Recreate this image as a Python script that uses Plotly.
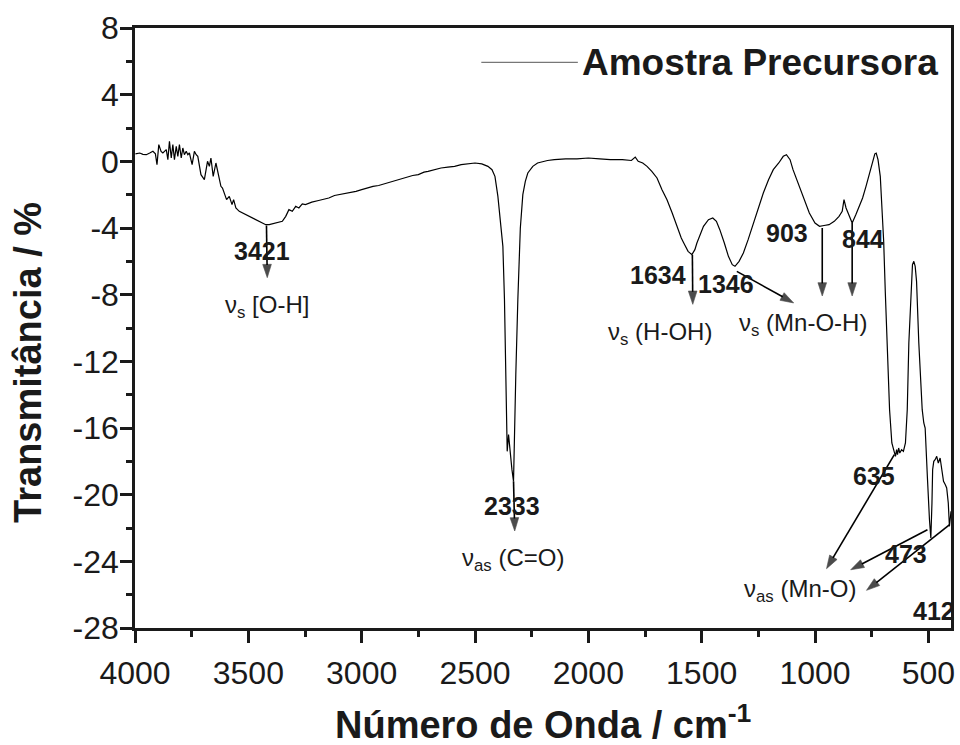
import plotly.graph_objects as go

# ---------------- data ----------------
wavenumber = [
    3998, 3979, 3965, 3950, 3935, 3921, 3910, 3903, 3895, 3885, 3877, 3862, 3855, 3848,
    3840, 3833, 3826, 3818, 3811, 3804, 3796, 3789, 3782, 3774, 3767, 3760, 3748, 3738,
    3730, 3723, 3709, 3694, 3680, 3672, 3665, 3655, 3643, 3628, 3621, 3614, 3606, 3596,
    3584, 3572, 3565, 3555, 3540, 3525, 3511, 3490, 3467, 3445, 3423, 3408, 3394, 3370,
    3350, 3335, 3321, 3306, 3291, 3277, 3262, 3248, 3220, 3190, 3170, 3145, 3120, 3100,
    3075, 3050, 3025, 3000, 2975, 2950, 2925, 2900, 2880, 2852, 2830, 2800, 2775, 2750,
    2725, 2707, 2680, 2650, 2620, 2590, 2561, 2530, 2500, 2470, 2443, 2425, 2412, 2399,
    2385, 2377, 2370, 2365, 2358, 2352, 2345, 2337, 2330, 2326, 2320, 2311, 2300, 2289,
    2278, 2267, 2245, 2224, 2200, 2180, 2150, 2100, 2050, 2000, 1950, 1903, 1850, 1810,
    1793, 1780, 1760, 1741, 1720, 1697, 1675, 1653, 1630, 1609, 1590, 1579, 1560, 1543,
    1530, 1521, 1505, 1492, 1470, 1451, 1435, 1420, 1400, 1382, 1365, 1353, 1335, 1316,
    1295, 1272, 1250, 1228, 1205, 1184, 1160, 1140, 1126, 1110, 1097, 1083, 1069, 1047,
    1025, 1000, 980, 960, 938, 915, 894, 880, 872, 863, 855, 836, 820, 806, 790, 775,
    760, 745, 736, 730, 722, 712, 705, 697, 690, 682, 671, 661, 652, 645, 640, 636,
    631, 626, 618, 610, 601, 593, 586, 576, 570, 564, 558, 552, 542, 527, 520, 514,
    509, 504, 495, 489, 484, 481, 476, 470, 463, 456, 448, 440, 433, 425, 419, 412,
    407, 403, 400,
]
transmittance = [
    0.45, 0.50, 0.42, 0.40, 0.50, 0.60, 0.45, -0.20, 1.00, 0.60, 0.50, 0.70, 0.10, 1.20,
    0.20, 1.00, 0.10, 0.90, 0.30, 1.00, 0.20, 0.80, 0.40, 0.60, 0.40, 0.50, -0.20, 0.60,
    0.40, 0.30, -0.80, -1.10, 0.00, -0.30, 0.20, -0.90, -0.10, -1.20, -1.50, -1.60, -1.90, -2.30,
    -2.10, -2.60, -2.30, -2.80, -3.00, -3.10, -3.20, -3.35, -3.50, -3.65, -3.80, -3.80, -3.76, -3.70,
    -3.60, -3.30, -2.90, -3.00, -2.70, -2.80, -2.55, -2.60, -2.45, -2.35, -2.30, -2.20, -2.05, -2.00,
    -1.95, -1.85, -1.80, -1.70, -1.60, -1.50, -1.45, -1.35, -1.30, -1.20, -1.10, -0.95, -0.85, -0.80,
    -0.65, -0.60, -0.50, -0.40, -0.35, -0.30, -0.20, -0.15, -0.10, -0.15, -0.30, -0.50, -0.90, -2.10,
    -4.00, -5.10, -8.30, -12.50, -17.40, -16.40, -17.50, -18.50, -19.20, -16.00, -12.80, -8.30, -4.00, -2.00,
    -1.20, -0.70, -0.30, -0.10, 0.00, 0.05, 0.10, 0.15, 0.15, 0.20, 0.15, 0.10, 0.10, 0.05,
    0.25, 0.00, -0.10, -0.30, -0.60, -1.00, -1.70, -2.30, -3.10, -3.90, -4.60, -4.90, -5.40, -5.60,
    -5.30, -4.90, -4.30, -3.90, -3.50, -3.40, -3.60, -4.10, -4.90, -5.70, -6.20, -6.30, -6.00, -5.50,
    -4.70, -3.70, -2.80, -1.90, -1.10, -0.50, -0.10, 0.30, 0.40, 0.10, -0.50, -1.00, -1.50, -2.30,
    -3.10, -3.70, -3.90, -3.85, -3.80, -3.60, -3.30, -3.00, -2.30, -2.80, -3.10, -3.70, -3.20, -2.70, -2.20, -1.50,
    -0.70, 0.10, 0.45, 0.49, 0.10, -0.90, -2.76, -4.80, -7.80, -10.90, -14.90, -16.90, -17.40, -17.70, -17.30, -17.60,
    -17.20, -17.50, -17.30, -17.40, -16.90, -14.90, -10.90, -7.20, -6.20, -6.00, -6.30, -7.20, -10.90, -14.90, -15.70, -16.00,
    -17.20, -19.00, -21.50, -22.60, -20.50, -18.50, -18.00, -17.90, -17.70, -18.10, -17.80, -18.60, -19.20, -19.40, -19.60, -20.50,
    -21.90, -21.40, -21.00,
]

series_name = "Amostra Precursora"

x_tick_values = [4000, 3500, 3000, 2500, 2000, 1500, 1000, 500]
x_tick_labels = ["4000", "3500", "3000", "2500", "2000", "1500", "1000", "500"]
y_tick_values = [-28, -24, -20, -16, -12, -8, -4, 0, 4, 8]
y_tick_labels = ["-28", "-24", "-20", "-16", "-12", "-8", "-4", "0", "4", "8"]

# peak labels (bold numbers): text, x, y
peak_labels = ["3421", "2333", "1634", "1346", "903", "844", "635", "473", "412"]
peak_label_x = [3438, 2335, 1694, 1394, 1124, 788, 740, 598, 476]
peak_label_y = [-5.4, -20.65, -6.82, -7.34, -4.3, -4.63, -18.9, -23.55, -26.96]

# assignment labels
assign_labels = ["ν<sub>s</sub> [O-H]", "ν<sub>as</sub> (C=O)", "ν<sub>s</sub> (H-OH)",
                 "ν<sub>s</sub> (Mn-O-H)", "ν<sub>as</sub> (Mn-O)"]
assign_x = [3419, 2332, 1682, 1054, 1066]
assign_y = [-8.7, -23.9, -10.3, -9.8, -25.75]

# arrows: tail (x, y) -> head (x, y)
arrow_tail_x = [3420, 2330, 1541, 1345, 968, 836, 650, 504, 406]
arrow_tail_y = [-3.85, -19.2, -5.6, -6.6, -4.0, -3.7, -17.6, -22.1, -21.8]
arrow_head_x = [3416, 2324, 1539, 1067, 968, 836, 965, 870, 797]
arrow_head_y = [-7.4, -22.6, -9.0, -8.7, -8.5, -8.5, -24.8, -24.7, -26.0]

FONT = "Liberation Sans, Arial, Helvetica, sans-serif"
INK = "#1a1a1a"

fig = go.Figure()
fig.add_trace(go.Scatter(
    x=wavenumber, y=transmittance, mode="lines", name=series_name,
    line=dict(color="#000000", width=1.2), showlegend=False,
))

# arrows as line segments with arrow-head markers at the head end
arr_x, arr_y, arr_size = [], [], []
for tx, ty, hx, hy in zip(arrow_tail_x, arrow_tail_y, arrow_head_x, arrow_head_y):
    arr_x += [tx, hx, None]
    arr_y += [ty, hy, None]
    arr_size += [0, 14, 0]
fig.add_trace(go.Scatter(
    x=arr_x, y=arr_y, mode="lines+markers", showlegend=False, hoverinfo="skip",
    line=dict(color="#000000", width=1.6),
    marker=dict(symbol="arrow", size=arr_size, angleref="previous", standoff=7,
                color="#000000", line=dict(width=0.6, color="#000000")),
))

annotations = []
for t, x, y in zip(peak_labels, peak_label_x, peak_label_y):
    annotations.append(dict(x=x, y=y, xref="x", yref="y", text=f"<b>{t}</b>",
                            showarrow=False, font=dict(family=FONT, size=25, color=INK),
                            xanchor="center", yanchor="middle"))
for t, x, y in zip(assign_labels, assign_x, assign_y):
    annotations.append(dict(x=x, y=y, xref="x", yref="y", text=t,
                            showarrow=False, font=dict(family=FONT, size=24, color=INK),
                            xanchor="center", yanchor="middle"))

# legend (drawn manually to match the long sample line)
annotations.append(dict(x=0.545, y=0.943, xref="paper", yref="paper",
                        text=f"<b>{series_name}</b>", showarrow=False,
                        font=dict(family=FONT, size=37, color=INK),
                        xanchor="left", yanchor="middle"))
# axis titles, placed as in the reference
annotations.append(dict(x=-0.131, y=0.442, xref="paper", yref="paper",
                        text="<b>Transmitância / %</b>", textangle=-90, showarrow=False,
                        font=dict(family=FONT, size=38, color=INK),
                        xanchor="center", yanchor="middle"))
annotations.append(dict(x=0.501, y=-0.156, xref="paper", yref="paper",
                        text="<b>Número de Onda / cm<sup>-1</sup></b>", showarrow=False,
                        font=dict(family=FONT, size=38, color=INK),
                        xanchor="center", yanchor="middle"))
shapes = [dict(type="line", xref="paper", yref="paper", x0=0.4244, x1=0.5427, y0=0.9427, y1=0.9427,
               line=dict(color="#777777", width=1.2))]

axis_common = dict(
    showline=True, linecolor=INK, linewidth=2.5, mirror=True,
    ticks="outside", ticklen=12, tickwidth=2.5, tickcolor=INK,
    showgrid=False, zeroline=False,
    tickfont=dict(family=FONT, size=32, color=INK),
)

fig.update_layout(
    width=960, height=745, autosize=False,
    paper_bgcolor="white", plot_bgcolor="white",
    margin=dict(l=135, r=5, t=28, b=117),
    font=dict(family=FONT, color=INK),
    annotations=annotations, shapes=shapes,
    xaxis=dict(
        range=[4000, 400], autorange=False,
        tickmode="array", tickvals=x_tick_values, ticktext=x_tick_labels,
        minor=dict(tickmode="linear", tick0=0, dtick=250, ticks="outside", ticklen=6,
                   tickwidth=2.5, tickcolor=INK, showgrid=False),
        ticklabelstandoff=3,
        **axis_common,
    ),
    yaxis=dict(
        range=[-28, 8], autorange=False,
        tickmode="array", tickvals=y_tick_values, ticktext=y_tick_labels,
        minor=dict(tickmode="linear", tick0=0, dtick=2, ticks="outside", ticklen=6,
                   tickwidth=2.5, tickcolor=INK, showgrid=False),
        ticklabelstandoff=-5,
        **axis_common,
    ),
)

fig.write_html("out.html", config={"displayModeBar": False},
               post_script="document.body.style.margin='0';")
